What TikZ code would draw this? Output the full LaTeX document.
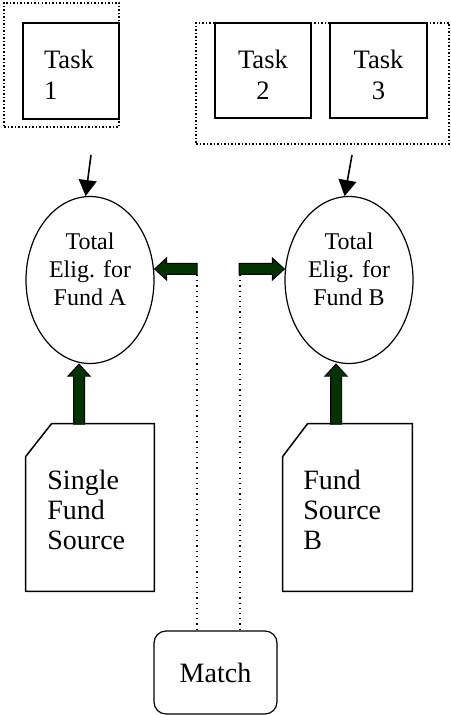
\documentclass[tikz,border=0pt]{standalone}
\usepackage{fontspec}
\setmainfont{Liberation Serif}
\usetikzlibrary{calc,arrows.meta,shapes.geometric}
\definecolor{fundgreen}{RGB}{0,51,0}
\tikzset{
  taskbox/.style={draw,line width=0.75pt,minimum width=48pt,minimum height=48pt,inner sep=0pt},
  groupbox/.style={draw,densely dotted,line width=0.75pt,inner sep=0pt},
  fundell/.style={draw,ellipse,line width=0.6pt,minimum width=64pt,minimum height=83.5pt,inner sep=0pt},
  elltext/.style={align=center,font=\fontsize{12}{14}\selectfont,inner sep=0pt},
  tasktext/.style={font=\fontsize{13.3}{15.5}\selectfont,inner sep=0pt},
  srctext/.style={align=left,anchor=west,font=\fontsize{14}{15}\selectfont,inner sep=0pt},
  srcbox/.style={minimum width=64pt,minimum height=83.5pt,inner sep=0pt},
  matchbox/.style={draw,rounded corners=6pt,line width=0.6pt,minimum width=61.5pt,minimum height=41.5pt,font=\fontsize{14}{15}\selectfont},
  thinarrow/.style={line width=0.8pt,-{Triangle[length=8pt,width=9pt]}},
  fatarrow/.style={draw=black,fill=fundgreen,line width=0.5pt},
  matchline/.style={dotted,line width=0.6pt,black},
}
% broad filled arrow from #1 (tail) to #2 (tip)
\newcommand\fatarrow[2]{%
  \coordinate (fh) at ($(#2)!6pt!(#1)$);
  \draw[fatarrow] ($(#1)!2.75pt!90:(#2)$) -- ($(fh)!2.75pt!90:(#2)$)
    -- ($(fh)!5.5pt!90:(#2)$) -- (#2) -- ($(fh)!5.5pt!-90:(#2)$)
    -- ($(fh)!2.75pt!-90:(#2)$) -- ($(#1)!2.75pt!-90:(#2)$) -- cycle;}
\begin{document}
\begin{tikzpicture}[x=0.5pt,y=-0.5pt]
  \useasboundingbox (0,0) rectangle (450,715);

  % task groups
  \node[groupbox,minimum width=57.5pt,minimum height=62pt] (grpA) at (61.5,65) {};
  \node[groupbox,minimum width=126.5pt,minimum height=60.5pt] (grpB) at (322.5,83.5) {};
  \node[taskbox] (t1) at (71,71) {};
  \node[tasktext,align=left] at (69,75) {Task\\1};
  \node[taskbox,minimum height=47.5pt] (t2) at (263,70.5) {};
  \node[tasktext,align=center] at (263,75) {Task\\2};
  \node[taskbox,minimum width=48.5pt,minimum height=47.5pt] (t3) at (378.5,70.5) {};
  \node[tasktext,align=center] at (378.5,75) {Task\\3};

  % eligibility ellipses
  \node[fundell] (ellA) at (90,280) {};
  \node[elltext] at (90,269) {Total\\Elig. for\\Fund A};
  \node[fundell] (ellB) at (349,280) {};
  \node[elltext] at (349,269) {Total\\Elig. for\\Fund B};

  \coordinate (inA) at (91,155);
  \coordinate (inB) at (352,155);
  \draw[thinarrow] (inA) -- (ellA.93);
  \draw[thinarrow] (inB) -- (ellB.93);

  % fund sources
  \node[srcbox] (srcA) at (90,507.5) {};
  \draw[line width=0.75pt] (srcA.south west) -- (srcA.south east) -- (srcA.north east)
    -- ($(srcA.north west)+(26,0)$) -- ($(srcA.north west)+(0,33)$) -- cycle;
  \node[srctext] at (47,510) {Single\\Fund\\Source};
  \node[srcbox,minimum width=64.5pt] (srcB) at (347.5,507.5) {};
  \draw[line width=0.75pt] (srcB.south west) -- (srcB.south east) -- (srcB.north east)
    -- ($(srcB.north west)+(25,0)$) -- ($(srcB.north west)+(0,33)$) -- cycle;
  \node[srctext] at (303,510) {Fund\\Source\\B};

  % match
  \node[matchbox] (match) at (215.5,672.5) {Match};

  % fund flows
  \coordinate (upA) at (79,424);
  \coordinate (upB) at (336,424);
  \fatarrow{upA}{upA |- ellA.south}
  \fatarrow{upB}{upB |- ellB.south}

  \coordinate (mA) at (197,269);
  \coordinate (mB) at (239,269);
  \fatarrow{mA}{ellA.east |- mA}
  \fatarrow{mB}{ellB.west |- mB}

  \coordinate (dA) at (197,275);
  \coordinate (dB) at (240,275);
  \draw[matchline] (dA) -- (dA |- match.north);
  \draw[matchline] (dB) -- (dB |- match.north);
\end{tikzpicture}
\end{document}
